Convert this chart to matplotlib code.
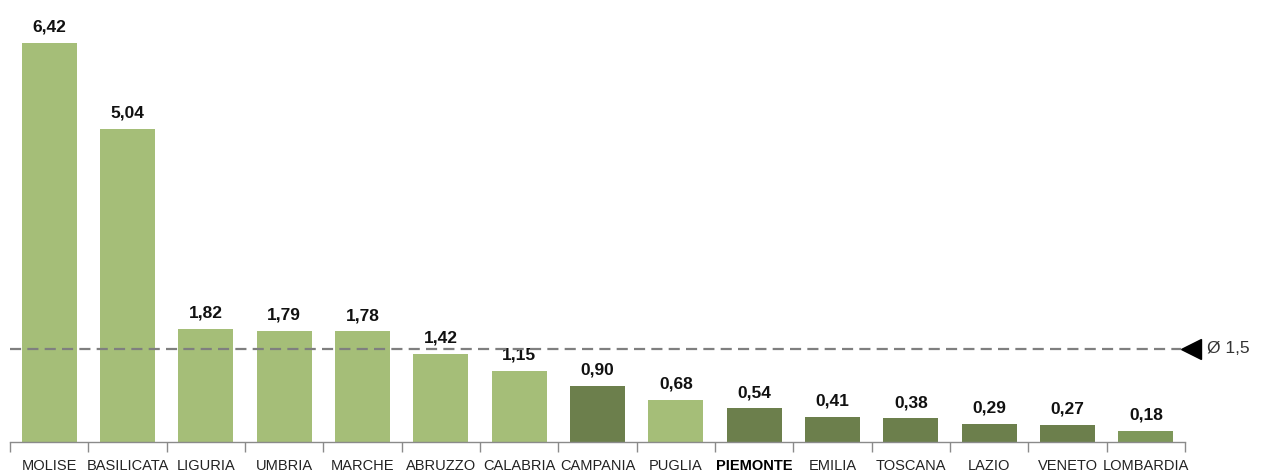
import matplotlib
matplotlib.use("Agg")
import matplotlib.pyplot as plt

# Regions and values, sorted descending
REGIONS = ["MOLISE", "BASILICATA", "LIGURIA", "UMBRIA", "MARCHE", "ABRUZZO",
           "CALABRIA", "CAMPANIA", "PUGLIA", "PIEMONTE", "EMILIA", "TOSCANA",
           "LAZIO", "VENETO", "LOMBARDIA"]
VALUES = [6.42, 5.04, 1.82, 1.79, 1.78, 1.42, 1.15, 0.90, 0.68, 0.54,
          0.41, 0.38, 0.29, 0.27, 0.18]
SHADES = ["light", "light", "light", "light", "light", "light", "light",
          "dark", "light", "dark", "dark", "dark", "dark", "dark", "mid"]
AVERAGE = 1.5
AVERAGE_LABEL = "Ø 1,5"

COLORS = {"light": "#a5be78", "dark": "#6c7f4c", "mid": "#7e985a"}
AXIS_GRAY = "#8a8a8a"

plt.rcParams["font.family"] = ["Liberation Sans Narrow", "Liberation Sans", "DejaVu Sans"]

fig = plt.figure(figsize=(12.74, 4.71), dpi=100)
ax = fig.add_axes([10 / 1274, 29 / 471, 1175 / 1274, 442 / 471])

x = list(range(len(REGIONS)))
bars = ax.bar(x, VALUES, width=0.70, color=[COLORS[s] for s in SHADES],
              edgecolor="none", zorder=2)

for bar, val in zip(bars, VALUES):
    ax.annotate(f"{val:.2f}".replace(".", ","),
                (bar.get_x() + bar.get_width() / 2, val),
                textcoords="offset points", xytext=(0, 6),
                ha="center", va="bottom", fontsize=12.5, fontweight="bold",
                family=["Liberation Sans", "DejaVu Sans"], color="#111111")

ax.set_xlim(-0.5, len(REGIONS) - 0.5)
ax.set_ylim(0, 442 / 62.15)

# Average line with marker and label past the right edge
ax.plot([-0.5, len(REGIONS) - 0.55], [AVERAGE, AVERAGE], color="#7f7f7f",
        linestyle=(0, (5, 2.8)), linewidth=1.6, zorder=3, clip_on=False)
ax.plot([len(REGIONS) - 0.42], [AVERAGE], marker="<", markersize=15,
        color="black", clip_on=False, zorder=4)
ax.text(len(REGIONS) - 0.22, AVERAGE, AVERAGE_LABEL, ha="left", va="center",
        fontsize=12.5, family=["Liberation Sans", "DejaVu Sans"], color="#333333")

# Category boundary ticks below the axis
ax.set_xticks([i - 0.5 for i in range(len(REGIONS) + 1)], minor=False)
ax.set_xticklabels([])
ax.tick_params(axis="x", which="major", direction="out", length=7,
               color=AXIS_GRAY, width=1)
ax.set_xticks(x, minor=True)
ax.set_xticklabels(REGIONS, minor=True)
ax.tick_params(axis="x", which="minor", length=0, pad=12.5, labelsize=10.5,
               labelcolor="#222222")
for lbl in ax.get_xticklabels(minor=True):
    if lbl.get_text() == "PIEMONTE":
        lbl.set_fontweight("bold")
        lbl.set_color("black")

ax.set_yticks([])
for side in ["top", "right", "left"]:
    ax.spines[side].set_visible(False)
ax.spines["bottom"].set_color(AXIS_GRAY)
ax.spines["bottom"].set_linewidth(1)
ax.patch.set_alpha(0)

fig.savefig("out.png", dpi=100, facecolor="white")
